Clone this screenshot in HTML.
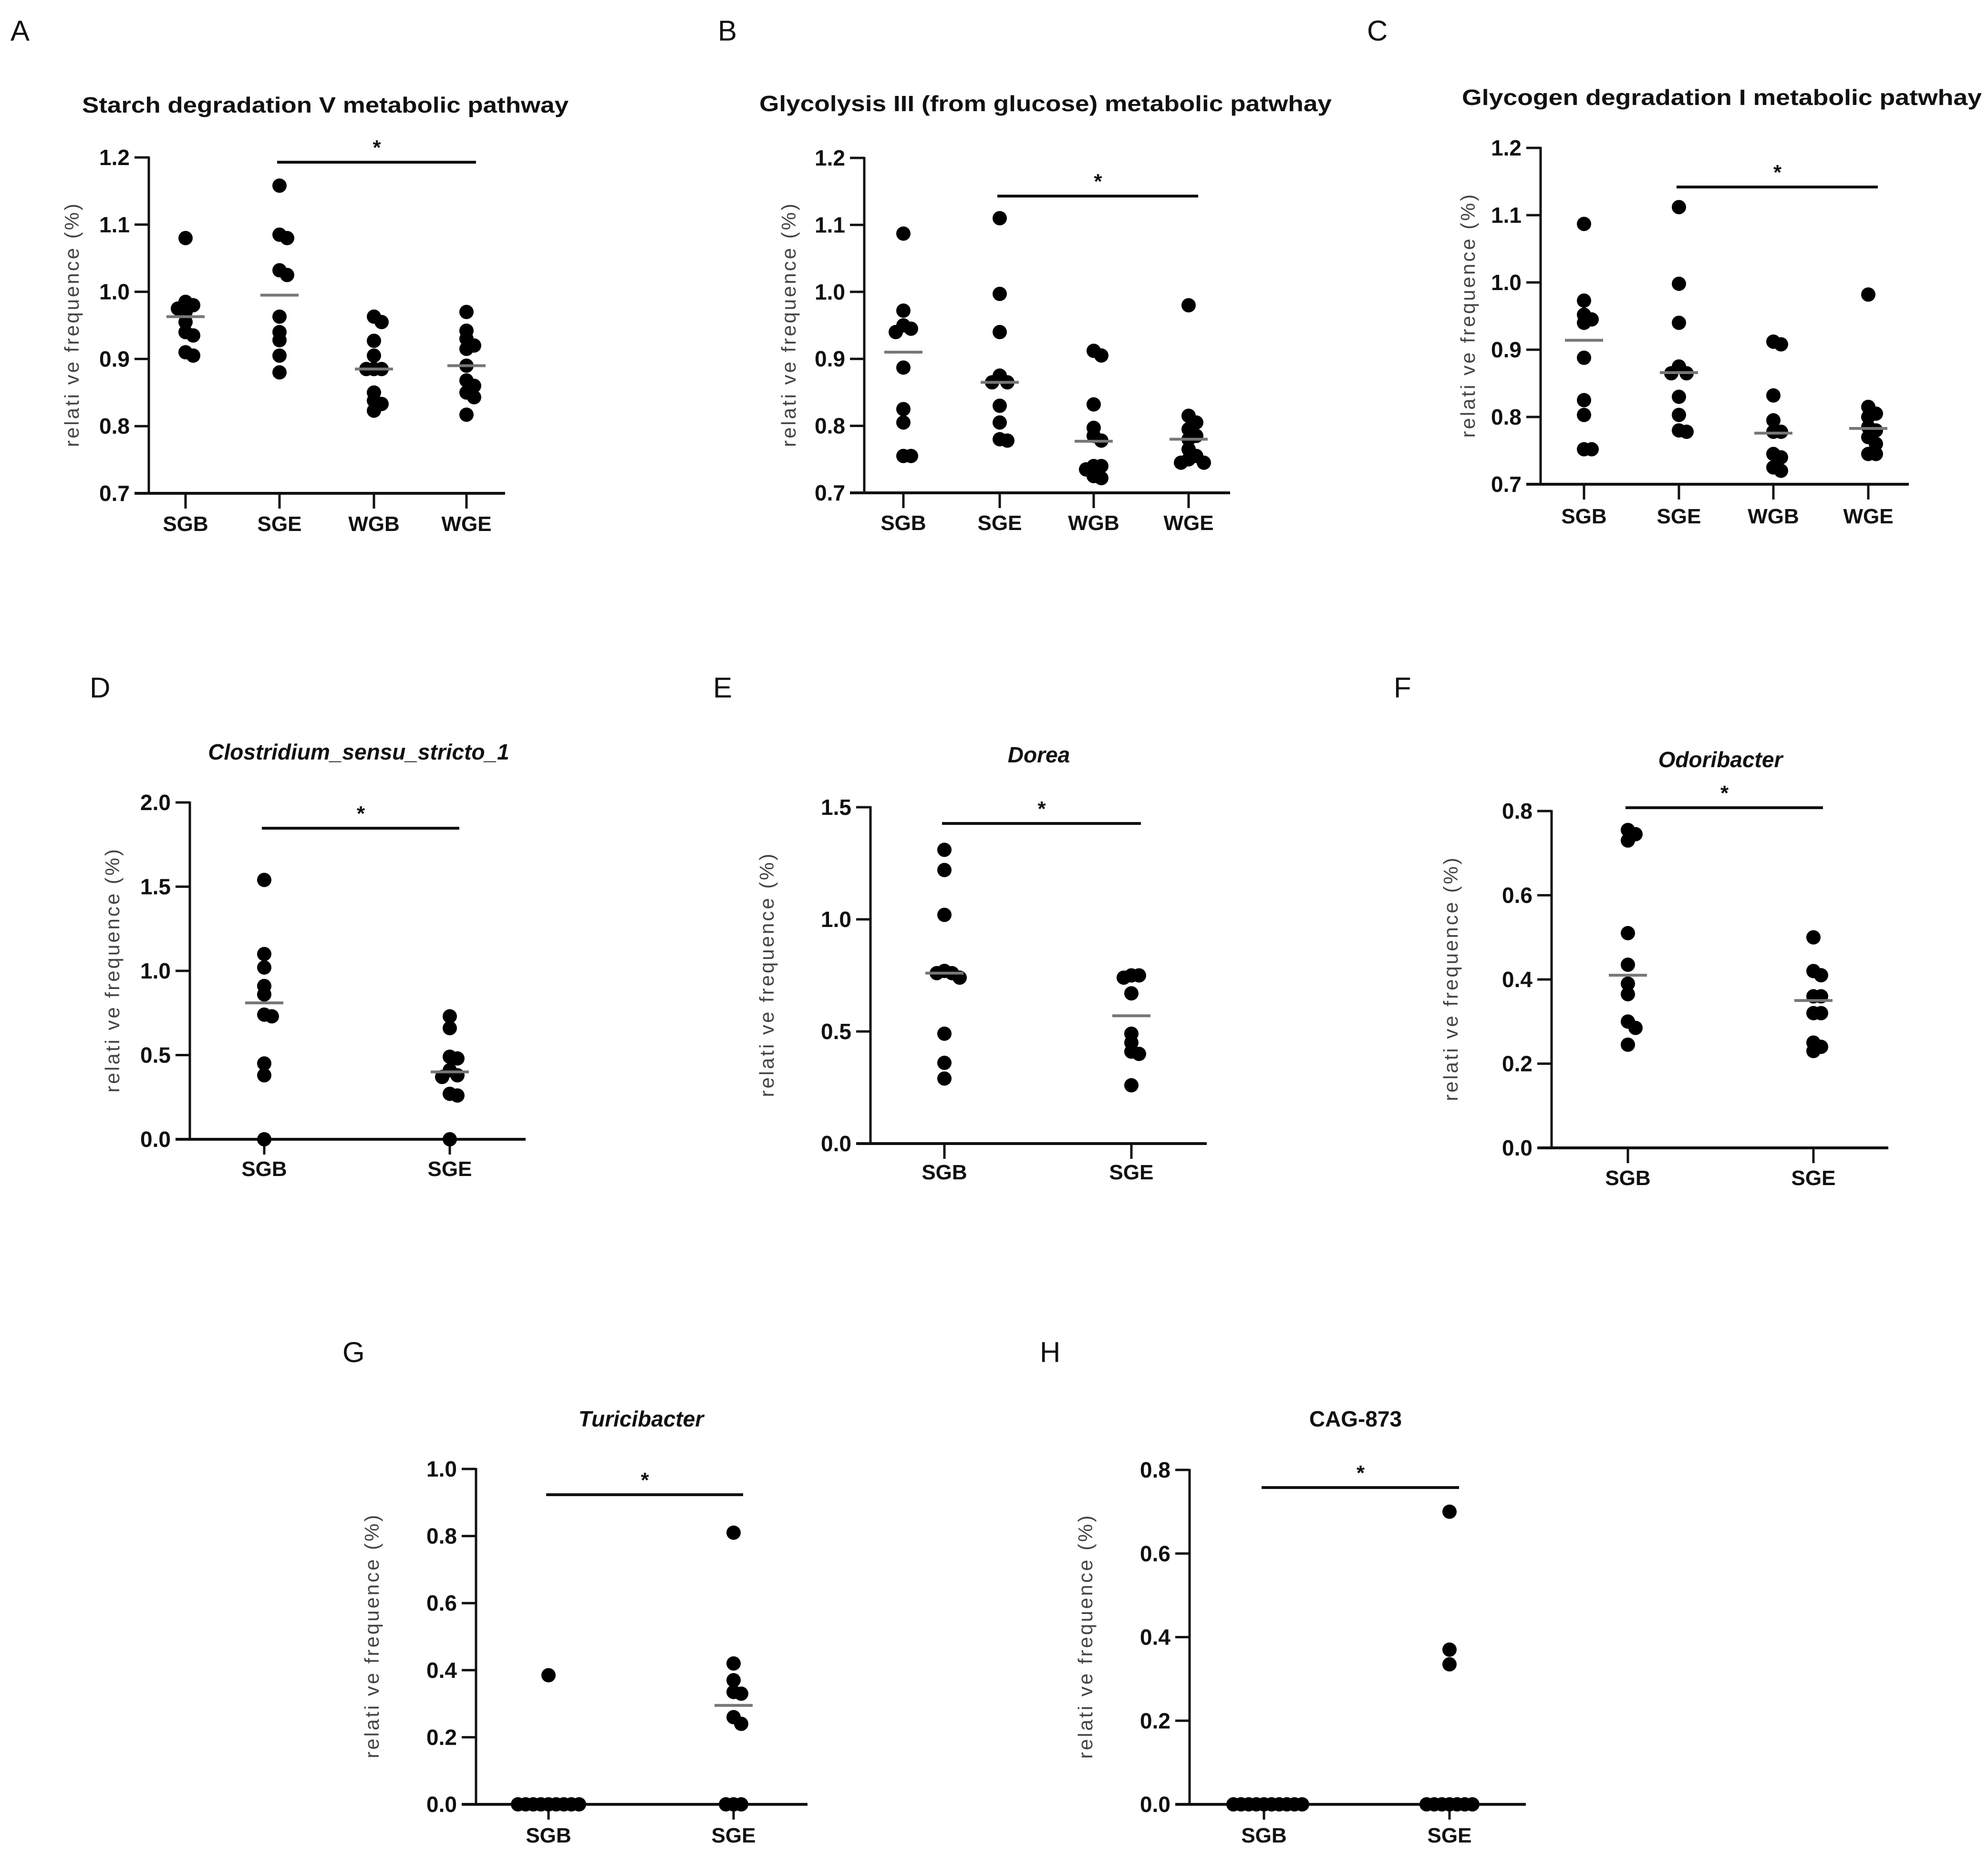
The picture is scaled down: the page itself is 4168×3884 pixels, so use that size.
<!DOCTYPE html>
<html><head><meta charset="utf-8"><style>
html,body{margin:0;padding:0;background:#fff;}
svg{display:block;}
text{font-family:"Liberation Sans",sans-serif;}
</style></head><body>
<svg id="fig" xmlns="http://www.w3.org/2000/svg" width="4168" height="3884" viewBox="0 0 4168 3884"></svg>
<script>
// ---- data ----
const catsABC = ["SGB","SGE","WGB","WGE"];
const catsPair = ["SGB","SGE"];
const ticksABC = [0.7,0.8,0.9,1.0,1.1,1.2];
const ticksD = [0.0,0.5,1.0,1.5,2.0];
const ticksE = [0.0,0.5,1.0,1.5];
const ticksF = [0.0,0.2,0.4,0.6,0.8];
const ticksG = [0.0,0.2,0.4,0.6,0.8,1.0];
const ticksH = [0.0,0.2,0.4,0.6,0.8];

const aSGB = [1.08,0.985,0.98,0.975,0.97,0.955,0.94,0.935,0.91,0.905];
const aSGE = [1.158,1.085,1.08,1.032,1.025,0.963,0.94,0.928,0.905,0.88];
const aWGB = [0.963,0.955,0.927,0.905,0.885,0.885,0.885,0.85,0.838,0.833,0.823];
const aWGE = [0.97,0.942,0.93,0.92,0.915,0.89,0.868,0.86,0.85,0.843,0.817];
const aMeans = [0.963,0.995,0.885,0.89];

const bSGB = [1.087,0.972,0.95,0.945,0.94,0.887,0.825,0.805,0.755,0.755];
const bSGE = [1.11,0.997,0.94,0.875,0.865,0.865,0.83,0.805,0.78,0.778];
const bWGB = [0.912,0.905,0.832,0.797,0.785,0.778,0.74,0.74,0.735,0.725,0.722];
const bWGE = [0.98,0.815,0.805,0.795,0.785,0.78,0.765,0.755,0.75,0.745,0.745];
const bMeans = [0.91,0.865,0.777,0.78];

const cSGB = [1.087,0.973,0.952,0.945,0.94,0.888,0.825,0.803,0.752,0.752];
const cSGE = [1.112,0.998,0.94,0.875,0.865,0.865,0.83,0.803,0.78,0.778];
const cWGB = [0.912,0.908,0.832,0.795,0.778,0.778,0.745,0.74,0.725,0.72];
const cWGE = [0.982,0.815,0.805,0.8,0.785,0.78,0.77,0.76,0.745,0.745];
const cMeans = [0.914,0.866,0.776,0.783];

const dSGB = [1.54,1.1,1.02,0.91,0.86,0.74,0.73,0.45,0.38,0.0];
const dSGE = [0.73,0.66,0.49,0.48,0.41,0.38,0.37,0.27,0.26,0.0];
const dMeans = [0.81,0.40];

const eSGB = [1.31,1.22,1.02,0.77,0.76,0.76,0.74,0.49,0.36,0.29];
const eSGE = [0.75,0.75,0.74,0.67,0.49,0.45,0.41,0.40,0.26];
const eMeans = [0.76,0.57];

const fSGB = [0.755,0.745,0.73,0.51,0.435,0.39,0.365,0.3,0.285,0.245];
const fSGE = [0.5,0.42,0.41,0.36,0.36,0.32,0.32,0.25,0.24,0.23];
const fMeans = [0.41,0.35];

const gSGB = [0.385,0,0,0,0,0,0,0,0,0];
const gSGE = [0.81,0.42,0.37,0.335,0.33,0.26,0.24,0,0,0];
const gMeans = [null,0.295];

const hSGB = [0,0,0,0,0,0,0,0,0,0];
const hSGE = [0.7,0.37,0.335,0,0,0,0,0,0,0];
const hMeans = [null,null];

// ---- drawing ----
const svg = document.getElementById('fig');
const NS = "http://www.w3.org/2000/svg";
function mk(tag, attrs, parent){
  const e = document.createElementNS(NS, tag);
  for (const k in attrs) e.setAttribute(k, attrs[k]);
  (parent||svg).appendChild(e);
  return e;
}

function panel(p){
  const g = mk('g', {});
  
  
  const ymin = p.ticks[0], ymax = p.ticks[p.ticks.length-1];
  const Y = v => p.y0 + (v - ymin) / (ymax - ymin) * (p.y1 - p.y0);
  const X = i => p.cx[i];

  const L = mk('text', {x:p.lx, y:p.ly, 'font-size':60, fill:'#111'}, g);
  L.textContent = p.letter;
  
  

  const T = mk('text', {x:p.tx, y:p.ty, 'font-size':46, 'font-weight':'bold', 'text-anchor':'middle', fill:'#111'}, g);
  if (p.italic) T.setAttribute('font-style','italic');
  if (p.tlen) { T.setAttribute('textLength', p.tlen); T.setAttribute('lengthAdjust','spacingAndGlyphs'); }
  T.textContent = p.title;
  
  

  const ya = mk('line', {x1:p.ax, y1:Y(ymax)-2, x2:p.ax, y2:p.y0+3, stroke:'#111','stroke-width':5}, g);
  
  
  const xa = mk('line', {x1:p.ax-30, y1:p.y0, x2:p.xend, y2:p.y0, stroke:'#111','stroke-width':6}, g);
  
  

  p.ticks.forEach(t => {
    const y = Y(t);
    const tk = mk('line', {x1:p.ax-30, y1:y, x2:p.ax, y2:y, stroke:'#111','stroke-width':5}, g);
    
    
    const tl = mk('text', {x:p.ax-40, y:y+16, 'font-size':46, 'font-weight':'bold', 'text-anchor':'end', fill:'#111'}, g);
    tl.textContent = t.toFixed(1);
    
    
  });

  p.cats.forEach((c, i) => {
    const tk = mk('line', {x1:X(i), y1:p.y0, x2:X(i), y2:p.y0+32, stroke:'#111','stroke-width':5}, g);
    
    
    const cl = mk('text', {x:X(i), y:p.cy, 'font-size':44, 'font-weight':'bold', 'text-anchor':'middle', fill:'#111'}, g);
    cl.textContent = c;
    
    
  });

  const ym = (p.y0 + Y(ymax)) / 2;
  const yt = mk('text', {x:0, y:0, 'font-size':42, 'text-anchor':'middle', fill:'#444',
    textLength:510, lengthAdjust:'spacing',
    transform:'translate(' + p.yx + ',' + ym + ') rotate(-90)'}, g);
  yt.textContent = 'relati ve frequence (%)';
  
  

  const sb = mk('line', {x1:X(p.sig[0])-5, y1:p.sigy, x2:X(p.sig[1])+20, y2:p.sigy, stroke:'#111','stroke-width':6}, g);
  
  
  const st = mk('text', {x:(X(p.sig[0])+X(p.sig[1]))/2+8, y:p.sigy-16, 'font-size':44, 'font-weight':'bold', 'text-anchor':'middle', fill:'#111'}, g);
  st.textContent = '*';
  
  

  const r = 15;
  p.series.forEach((vals, i) => {
    const placed = [];
    vals.forEach(v => {
      const y = Y(v);
      let off = 0;
      for (let k = 0; k < 40; k++) {
        const cand = (k === 0) ? 0 : (k % 2 ? 1 : -1) * Math.ceil(k/2) * 16;
        const ok = placed.every(q => Math.hypot(q[0]-cand, q[1]-y) >= 15);
        if (ok) { off = cand; break; }
      }
      placed.push([off, y]);
      const d = mk('circle', {cx:X(i)+off, cy:y, r:r, fill:'#000'}, g);
      
      
    });
    const m = p.means[i];
    if (m !== null && m !== undefined) {
      const ml = mk('line', {x1:X(i)-40, y1:Y(m), x2:X(i)+40, y2:Y(m), stroke:'#777','stroke-width':6}, g);
      
      
    }
  });
}

panel({letter:'A', lx:22, ly:85, title:'Starch degradation V metabolic pathway', tx:682, ty:236, tlen:1020,
  ax:312, xend:1059, y0:1034, y1:330, ticks:ticksABC, cats:catsABC, cx:[389,586,784,978], cy:1113, yx:165,
  sig:[1,3], sigy:340, series:[aSGB,aSGE,aWGB,aWGE], means:aMeans});
panel({letter:'B', lx:1505, ly:85, title:'Glycolysis III (from glucose) metabolic patwhay', tx:2192, ty:233, tlen:1200,
  ax:1812, xend:2579, y0:1033, y1:331, ticks:ticksABC, cats:catsABC, cx:[1894,2096,2293,2492], cy:1111, yx:1668,
  sig:[1,3], sigy:411, series:[bSGB,bSGE,bWGB,bWGE], means:bMeans});
panel({letter:'C', lx:2866, ly:85, title:'Glycogen degradation I metabolic patwhay', tx:3610, ty:220, tlen:1090,
  ax:3230, xend:4002, y0:1015, y1:310, ticks:ticksABC, cats:catsABC, cx:[3321,3520,3718,3917], cy:1097, yx:3092,
  sig:[1,3], sigy:392, series:[cSGB,cSGE,cWGB,cWGE], means:cMeans});

panel({letter:'D', lx:188, ly:1462, title:'Clostridium_sensu_stricto_1', italic:true, tx:752, ty:1592,
  ax:398, xend:1102, y0:2388, y1:1682, ticks:ticksD, cats:catsPair, cx:[554,943], cy:2465, yx:250,
  sig:[0,1], sigy:1736, series:[dSGB,dSGE], means:dMeans});
panel({letter:'E', lx:1495, ly:1462, title:'Dorea', italic:true, tx:2178, ty:1598,
  ax:1825, xend:2530, y0:2397, y1:1692, ticks:ticksE, cats:catsPair, cx:[1980,2372], cy:2472, yx:1622,
  sig:[0,1], sigy:1726, series:[eSGB,eSGE], means:eMeans});
panel({letter:'F', lx:2922, ly:1462, title:'Odoribacter', italic:true, tx:3607, ty:1608,
  ax:3253, xend:3959, y0:2406, y1:1700, ticks:ticksF, cats:catsPair, cx:[3413,3802], cy:2484, yx:3056,
  sig:[0,1], sigy:1693, series:[fSGB,fSGE], means:fMeans});

panel({letter:'G', lx:718, ly:2855, title:'Turicibacter', italic:true, tx:1344, ty:2990,
  ax:998, xend:1693, y0:3782, y1:3079, ticks:ticksG, cats:catsPair, cx:[1150,1538], cy:3862, yx:794,
  sig:[0,1], sigy:3133, series:[gSGB,gSGE], means:gMeans});
panel({letter:'H', lx:2180, ly:2855, title:'CAG-873', tx:2842, ty:2990,
  ax:2494, xend:3199, y0:3782, y1:3081, ticks:ticksH, cats:catsPair, cx:[2650,3039], cy:3862, yx:2290,
  sig:[0,1], sigy:3118, series:[hSGB,hSGE], means:hMeans});
</script>
</body></html>
